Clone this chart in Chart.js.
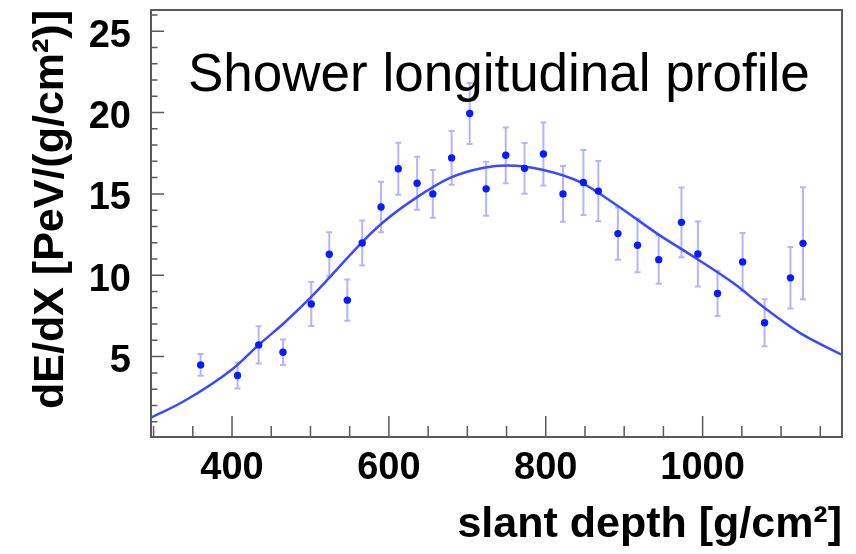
<!DOCTYPE html>
<html>
<head>
<meta charset="utf-8">
<title>Shower longitudinal profile</title>
<script src="https://cdn.jsdelivr.net/npm/chart.js@4.4.0/dist/chart.umd.min.js"></script>
<style>
  html, body { margin: 0; padding: 0; background: #fff; }
</style>
</head>
<body>
<canvas id="profileChart" width="856" height="554"></canvas>
<script>
// measured points: slant depth [g/cm2], dE/dX [PeV/(g/cm2)] and its error
const depth = [360, 407, 434, 465, 501, 524, 547, 566, 590, 612, 636, 656, 680, 703, 724,
               749, 773, 797, 822, 848, 867, 892, 917, 944, 973, 994, 1019, 1051, 1079, 1112, 1128];
const dEdX = [4.49, 3.84, 5.72, 5.27, 8.23, 11.29, 8.47, 11.98, 14.19, 16.54, 15.65, 15.0, 17.21, 19.94, 15.31,
              17.37, 16.57, 17.45, 15.0, 15.7, 15.17, 12.56, 11.84, 10.96, 13.25, 11.31, 8.88, 10.82, 7.08, 9.84, 11.96];
const dEdXErr = [0.67, 0.8, 1.15, 0.78, 1.35, 1.35, 1.27, 1.38, 1.55, 1.6, 1.63, 1.47, 1.65, 1.87, 1.66,
                 1.71, 1.56, 1.94, 1.71, 2.0, 1.85, 1.6, 1.65, 1.48, 2.14, 2.0, 1.39, 1.78, 1.45, 1.89, 3.44];

// fitted profile
const fitDepth = [296, 338, 402, 434, 466, 501, 525, 566, 593, 636, 678, 721, 751, 797, 844, 891, 942, 993, 1040, 1080, 1125, 1178];
const fitValue = [1.23, 2.24, 4.29, 5.72, 7.05, 8.67, 9.9, 12.04, 13.27, 14.8, 15.98, 16.6, 16.74, 16.47, 15.72, 14.29, 12.56, 11.0, 9.49, 7.96, 6.43, 5.1];

const xTicks = [400, 600, 800, 1000];
const yTicks = [5, 10, 15, 20, 25];

Chart.defaults.font.family = '"Liberation Sans", Arial, Helvetica, sans-serif';

// vertical error bars with small caps
const errorBars = {
    id: 'errorBars',
    beforeDatasetsDraw(chart) {
        const {ctx, scales: {x, y}} = chart;
        ctx.save();
        ctx.strokeStyle = 'rgba(70, 70, 255, 0.4)';
        ctx.lineWidth = 2;
        ctx.beginPath();
        depth.forEach((d, i) => {
            const px = x.getPixelForValue(d);
            const top = y.getPixelForValue(dEdX[i] + dEdXErr[i]);
            const bot = y.getPixelForValue(dEdX[i] - dEdXErr[i]);
            ctx.moveTo(px, top); ctx.lineTo(px, bot);
            ctx.moveTo(px - 3, top); ctx.lineTo(px + 3, top);
            ctx.moveTo(px - 3, bot); ctx.lineTo(px + 3, bot);
        });
        ctx.stroke();
        ctx.restore();
    }
};

// ROOT-like frame with inward major/minor ticks
const rootFrame = {
    id: 'rootFrame',
    afterDatasetsDraw(chart) {
        const {ctx, chartArea: a, scales: {x, y}} = chart;
        ctx.save();
        ctx.strokeStyle = '#5a5a5a';
        ctx.lineWidth = 1.5;
        ctx.beginPath();
        for (let v = Math.ceil(x.min / 50) * 50; v <= x.max; v += 50) {
            const px = x.getPixelForValue(v);
            const len = v % 200 === 0 ? 21 : 11;
            ctx.moveTo(px, a.bottom);
            ctx.lineTo(px, a.bottom - len);
        }
        for (let v = Math.ceil(y.min); v <= y.max; v += 1) {
            const py = y.getPixelForValue(v);
            const len = v % 5 === 0 ? 13 : 6.5;
            ctx.moveTo(a.left, py);
            ctx.lineTo(a.left + len, py);
        }
        ctx.stroke();
        ctx.lineWidth = 2;
        ctx.strokeRect(a.left, a.top, a.right - a.left, a.bottom - a.top);
        ctx.restore();
    }
};

const profileTitle = {
    id: 'profileTitle',
    afterDraw(chart) {
        const {ctx, chartArea: a} = chart;
        ctx.save();
        ctx.font = '53px "Liberation Sans", Arial, sans-serif';
        ctx.fillStyle = '#000';
        ctx.textBaseline = 'alphabetic';
        ctx.fillText('Shower longitudinal profile', a.left + 37, a.top + 80.5);
        ctx.restore();
    }
};

const ctx = document.getElementById('profileChart').getContext('2d');

new Chart(ctx, {
    type: 'scatter',
    data: {
        datasets: [{
            label: 'fit',
            type: 'line',
            data: fitDepth.map((d, i) => ({x: d, y: fitValue[i]})),
            borderColor: '#3a4bff',
            borderWidth: 2.5,
            pointRadius: 0,
            cubicInterpolationMode: 'monotone',
            fill: false,
            order: 2
        }, {
            label: 'dE/dX',
            data: depth.map((d, i) => ({x: d, y: dEdX[i]})),
            pointRadius: 3.7,
            pointBackgroundColor: '#0b1bff',
            pointBorderWidth: 0,
            order: 1
        }]
    },
    options: {
        responsive: false,
        animation: false,
        layout: {padding: {top: 10, right: 14, left: 0, bottom: 0}},
        plugins: {
            legend: {display: false},
            tooltip: {enabled: false}
        },
        scales: {
            x: {
                type: 'linear',
                min: 296.7,
                max: 1177.7,
                afterFit: s => { s.height = 117; s.paddingLeft = 0; s.paddingRight = 0; },
                afterBuildTicks: s => { s.ticks = xTicks.map(v => ({value: v})); },
                grid: {display: false},
                border: {display: false},
                ticks: {
                    color: '#000',
                    font: {size: 38, weight: 'bold'},
                    padding: 1,
                    maxRotation: 0,
                    autoSkip: false,
                    callback: v => String(v)
                },
                title: {
                    display: true,
                    text: 'slant depth [g/cm²]',
                    align: 'end',
                    color: '#000',
                    font: {size: 43, weight: 'bold'},
                    padding: {top: 0, bottom: 3}
                }
            },
            y: {
                type: 'linear',
                min: 0.06,
                max: 26.3,
                afterFit: s => { s.width = 151; s.paddingTop = 0; s.paddingBottom = 0; },
                afterBuildTicks: s => { s.ticks = yTicks.map(v => ({value: v})); },
                grid: {display: false},
                border: {display: false},
                ticks: {
                    color: '#000',
                    font: {size: 38, weight: 'bold'},
                    padding: 12,
                    labelOffset: 5,
                    callback: v => String(v)
                },
                title: {
                    display: true,
                    text: 'dE/dX [PeV/(g/cm²)]',
                    align: 'end',
                    color: '#000',
                    font: {size: 43, weight: 'bold'},
                    padding: {top: 25, bottom: 0}
                }
            }
        }
    },
    plugins: [errorBars, rootFrame, profileTitle]
});
</script>
</body>
</html>
